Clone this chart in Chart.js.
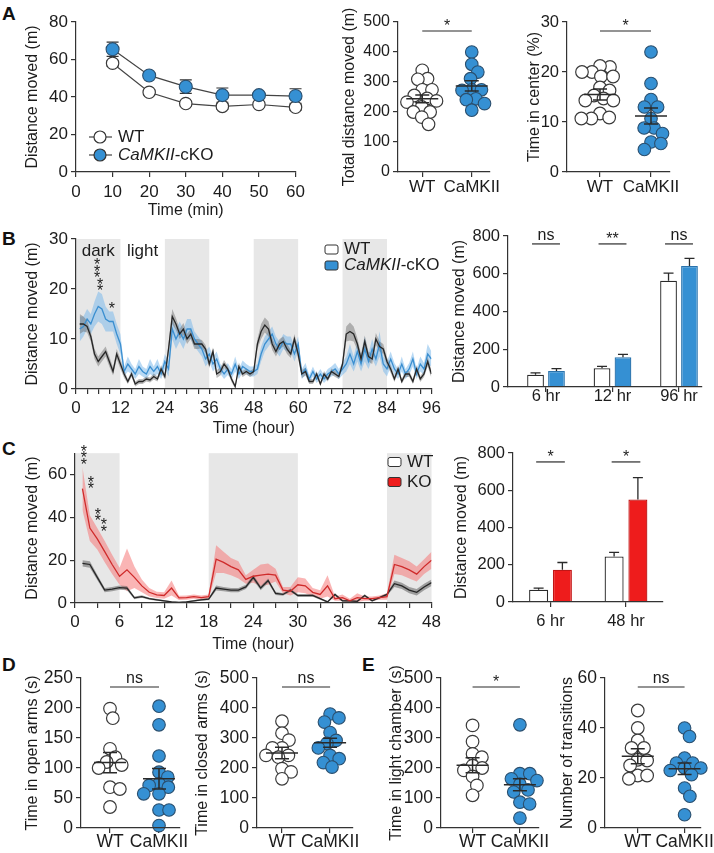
<!DOCTYPE html>
<html>
<head>
<meta charset="utf-8">
<title>Figure</title>
<script src="https://cdn.jsdelivr.net/npm/chart.js@4.4.1/dist/chart.umd.min.js"></script>
<style>
  html, body { margin:0; padding:0; background:#fff; }
  body { position:relative; width:714px; height:853px; overflow:hidden; }
  canvas { position:absolute; }
  .pl { position:absolute; font:bold 19px/19px "Liberation Sans", Arial, sans-serif; color:#111; }
</style>
</head>
<body>
<div class="pl" style="left:2px;top:4px">A</div>
<div class="pl" style="left:2px;top:229px">B</div>
<div class="pl" style="left:2px;top:439px">C</div>
<div class="pl" style="left:2px;top:655px">D</div>
<div class="pl" style="left:362px;top:655px">E</div>
<canvas id="cA1"></canvas>
<canvas id="cA2"></canvas>
<canvas id="cA3"></canvas>
<canvas id="cB1"></canvas>
<canvas id="cB2"></canvas>
<canvas id="cC1"></canvas>
<canvas id="cC2"></canvas>
<canvas id="cD1"></canvas>
<canvas id="cD2"></canvas>
<canvas id="cE1"></canvas>
<canvas id="cE2"></canvas>
<script>
// ===================== DATA =====================
const groups = ['WT', 'CaMKII'];

// A – open field, distance per 10 min
const aTime = [10, 20, 30, 40, 50, 60];
const aWT = [58, 42.5, 36.5, 35, 36, 34.5];
const aWTsem = [1.5, 1.2, 1.2, 1.5, 1.2, 1.5];
const aKO = [65.5, 51.5, 45.5, 41, 41, 40.5];
const aKOsem = [3.8, 1.2, 3.6, 3.8, 1.5, 3.9];
// A – total distance
const aTotalWT = [339, 311, 309, 274, 274, 255, 245, 237, 233, 217, 200, 200, 183, 159];
const aTotalKO = [400, 359, 333, 311, 274, 274, 272, 244, 241, 228, 206];
const aTotalMean = [244, 287];
const aTotalSem = [13, 17];
// A – time in center
const aCenterWT = [21, 21.2, 20, 20, 19.1, 19.1, 16.9, 16.3, 15.3, 14.7, 14.3, 14.3, 11.7, 10.7, 10.7, 10.9];
const aCenterKO = [24, 17.7, 14.5, 13, 13, 10.7, 8.8, 8.8, 7.7, 6, 5.7, 4.5];
const aCenterMean = [15.5, 11.2];
const aCenterSem = [1.1, 1.6];

// B – home cage 96 h
const bHours = Array.from({length: 96}, (_, i) => i + 1);
const bDark = [[0, 12], [24, 36], [48, 60], [72, 84]];
const bWT = [13, 13, 12.5, 10.5, 7, 5.5, 6.5, 7.5, 5.5, 3.5, 7, 5,
  3, 1.5, 3, 1, 1.5, 1.5, 2, 1.8, 2.5, 2, 4, 2.5,
  8, 14.5, 13, 11, 12, 10, 11, 9, 9, 9, 8, 5,
  7.5, 3, 3.5, 5, 4, 2, 0.5, 4.5, 3, 3.5, 3, 3.5,
  9, 11.5, 12.8, 12, 9, 7.5, 9, 9.5, 8, 7, 10, 7,
  3, 3.5, 1.5, 1.5, 3, 1, 3, 2, 3.5, 3, 2.5, 5,
  11, 11.5, 11, 9, 6, 9.5, 6.5, 6, 10, 8.5, 8, 5.5,
  4, 2, 4, 1.5, 3, 3, 1.5, 4, 2, 3, 5.5, 3];
const bWTsem = [2, 1.5, 1.2, 1, 1, 1, 1, 1, 1, 0.8, 1, 1,
  0.8, 0.5, 0.6, 0.5, 0.5, 0.5, 0.5, 0.5, 0.6, 0.5, 0.8, 0.6,
  1.2, 1.5, 1.2, 1, 1.2, 1, 1, 1, 1, 0.8, 0.8, 0.8,
  0.8, 0.8, 0.8, 0.8, 0.6, 0.6, 0.4, 0.8, 0.6, 0.6, 0.6, 0.6,
  1, 1.5, 1.5, 1.5, 1.2, 1, 1, 1, 1, 0.8, 1, 1,
  0.8, 0.8, 0.5, 0.5, 0.6, 0.4, 0.6, 0.5, 0.6, 0.6, 0.5, 0.8,
  1.5, 1.8, 1.5, 1.2, 1, 1.2, 1, 1, 1.2, 1, 1, 0.8,
  0.8, 0.6, 0.8, 0.5, 0.6, 0.6, 0.5, 0.8, 0.6, 0.6, 1, 0.8];
const bKO = [12, 12.5, 14, 13, 15, 16.5, 16, 14, 13.5, 13.5, 11, 9,
  3.5, 5, 4, 3, 4.5, 3.5, 3, 4.5, 3.5, 4.5, 3, 5.5,
  4, 12, 10, 11.5, 10, 12, 12, 10, 9, 8, 6, 7,
  5, 6, 4, 3, 4, 3, 5, 3, 4.5, 4, 3.5, 3.5,
  4, 7, 9, 10, 11, 9, 8, 9.5, 9, 9, 7, 9,
  3, 4, 2, 3.5, 2, 3, 2, 3, 3.5, 4, 3, 4,
  5, 7, 5, 7.5, 5, 8, 5.5, 8, 6, 9, 5, 4,
  6, 4, 3, 5, 3, 4, 6, 3, 5, 4, 7, 6];
const bKOsem = [2.5, 2, 2, 2, 2.5, 3, 3, 2.5, 2, 2, 2, 2,
  1, 1.5, 1, 1, 1.5, 1, 1, 1.5, 1, 1.5, 1, 1.5,
  1.5, 2, 2, 2, 2, 2, 2, 1.5, 1.5, 1.5, 1.5, 1.5,
  1.5, 1.5, 1, 1, 1.2, 1, 1.5, 1, 1.2, 1, 1, 1,
  1, 1.5, 1.5, 1.5, 1.5, 1.5, 1.5, 1.5, 1.5, 1.5, 1.5, 1.5,
  1, 1.2, 0.8, 1, 0.8, 1, 0.8, 1, 1, 1.2, 1, 1.2,
  1.5, 2, 1.5, 2, 1.5, 2.5, 1.5, 2, 1.5, 2.5, 1.5, 1.5,
  1.5, 1.2, 1, 1.5, 1, 1.2, 1.5, 1, 1.5, 1.2, 2, 1.5];
const bBarCats = ['6 hr', '12 hr', '96 hr'];
const bBarWT = [65, 99, 563];
const bBarWTerr = [10, 10, 40];
const bBarKO = [85, 158, 641];
const bBarKOerr = [12, 15, 40];

// C – 48 h
const cHours = Array.from({length: 48}, (_, i) => i + 1);
const cDark = [[0, 6], [18, 30], [42, 48]];
const cKO = [53.5, 35, 30, 24, 18, 12.5, 15.5, 12, 8, 5, 3.8, 3.5,
  7, 2.4, 2.5, 3, 2.5, 3, 20.5, 19, 17, 15.5, 11, 12.5,
  13, 13.5, 13, 6, 5.5, 8.5, 8, 5, 4, 8, 2, 2.5,
  1, 2.5, 2, 2, 2.5, 3, 18, 17, 15.5, 13.5, 17, 20];
const cKOsem = [10, 6, 5, 5, 4.5, 4, 10, 5, 3, 2, 1.5, 1.5,
  3.5, 1, 1, 1, 1, 1, 6.5, 5, 4, 4, 2, 3,
  5, 5, 3, 1.5, 2, 3.5, 3.5, 2, 2, 5, 1, 1.5,
  1, 2, 1, 1, 1, 1.5, 4.5, 4, 4, 3.5, 3.5, 4];
const cWT = [18.5, 18, 12, 6, 6.5, 7.2, 7, 2.4, 3, 2, 1.5, 1,
  0.5, 0.3, 0.5, 1, 1.5, 1.8, 7, 6.5, 6, 6, 7.5, 12,
  7, 10.5, 4.5, 4, 6, 3.5, 3.5, 3.5, 2, 0.5, 4, 1,
  1, 0.8, 3.5, 1, 2.5, 4, 9, 8, 6, 5, 7.5, 9.5];
const cWTsem = [1.5, 1.5, 1.2, 1, 1, 1, 1, 0.6, 0.6, 0.5, 0.5, 0.4,
  0.3, 0.3, 0.3, 0.4, 0.5, 0.5, 1.2, 1, 1, 1, 1, 1.2,
  1, 1, 0.8, 0.6, 0.8, 0.6, 0.6, 0.6, 0.5, 0.4, 0.6, 0.4,
  0.4, 0.4, 0.6, 0.4, 0.5, 0.6, 1.5, 1.5, 1.5, 1.5, 1.5, 1.5];
const cBarCats = ['6 hr', '48 hr'];
const cBarWT = [66, 244];
const cBarWTerr = [9, 22];
const cBarKO = [173, 551];
const cBarKOerr = [39, 117];

// D – elevated plus maze
const dOpenWT = [199, 183, 132, 118, 110, 105, 100, 68, 65, 35];
const dOpenKO = [203, 172, 120, 93, 85, 74, 71, 68, 57, 57, 30, 30, 4];
const dOpenMean = [109, 82];
const dOpenSem = [17, 17];
const dClosedWT = [356, 316, 293, 267, 267, 242, 242, 236, 198, 187, 164];
const dClosedKO = [380, 367, 353, 318, 292, 282, 267, 242, 231, 218, 203];
const dClosedMean = [250, 284];
const dClosedSem = [19, 15];

// E – light/dark box
const eLightWT = [342, 288, 247, 236, 208, 200, 192, 172, 142, 109];
const eLightKO = [344, 181, 181, 164, 158, 146, 127, 120, 86, 80, 33];
const eLightMean = [209, 144];
const eLightSem = [25, 20];
const eTransWT = [47, 40, 35, 32, 32, 27.3, 27, 25, 21, 21, 19.7];
const eTransKO = [40, 36.6, 28, 26, 26, 24, 24, 23, 21.3, 16, 12.7, 5.3];
const eTransMean = [28.7, 23.7];
const eTransSem = [3, 2.3];

// ===================== STYLE / HELPERS =====================
const FONT = '"Liberation Sans", Arial, Helvetica, sans-serif';
const AX = '#333';
const TXT = '#1c1c1c';
const BLUE = '#3590d3';
const BLUE_DK = '#2a73ad';
const RED = '#ee1c1c';
const RED_DK = '#c01616';
Chart.defaults.font.family = FONT;
Chart.defaults.color = TXT;
Chart.defaults.animation = false;
Chart.defaults.plugins.legend.display = false;
Chart.defaults.plugins.tooltip.enabled = false;

const EX = {};

function place(id, L) {
  const c = document.getElementById(id);
  c.width = L.cw; c.height = L.ch;
  c.style.left = L.cl + 'px'; c.style.top = L.ct + 'px';
  c.style.width = L.cw + 'px'; c.style.height = L.ch + 'px';
  return c;
}
function pad(L) {
  return {left: 0, bottom: 0, top: L.yT - L.ct, right: L.cl + L.cw - L.x1};
}
function gridOpts() {
  return {display: true, drawOnChartArea: false, drawTicks: true, tickLength: 5, color: AX, lineWidth: 1.2, offset: false};
}
function yLin(L, max, step, title, size) {
  return {
    type: 'linear', min: 0, max: max,
    ticks: {stepSize: step, font: {size: size}, color: TXT, padding: 3},
    grid: gridOpts(),
    border: {display: true, color: AX, width: 1.2, z: 1},
    title: {display: true, text: title, color: TXT, font: {size: 16}, padding: {top: L.tc - L.cl - 9.6, bottom: 0}},
    afterFit: s => { s.width = L.x0 - L.cl; }
  };
}
function xLin(L, min, max, step, labelFn, size, tpad, title, titlePad) {
  return {
    type: 'linear', min: min, max: max, offset: false,
    ticks: {stepSize: step, autoSkip: false, maxRotation: 0, font: {size: size}, color: TXT, padding: tpad,
      callback: v => labelFn(v)},
    grid: gridOpts(),
    border: {display: true, color: AX, width: 1.2, z: 1},
    title: title ? {display: true, text: title, color: TXT, font: {size: 16}, padding: {top: 0, bottom: titlePad}} : {display: false},
    afterFit: s => { s.height = L.ct + L.ch - L.y0; }
  };
}
function xCat(L, labels, size, tpad) {
  const min = -(L.c0 - L.x0) / L.sp, max = (L.x1 - L.c0) / L.sp;
  return {
    type: 'linear', min: min, max: max, offset: false,
    afterBuildTicks: s => { s.ticks = labels.map((_, i) => ({value: i})); },
    ticks: {autoSkip: false, maxRotation: 0, font: {size: size}, color: TXT, padding: tpad,
      callback: v => labels[Math.round(v)]},
    grid: gridOpts(),
    border: {display: true, color: AX, width: 1.2, z: 1},
    title: {display: false},
    afterFit: s => { s.height = L.ct + L.ch - L.y0; }
  };
}
function pts(xs, ys) { return xs.map((x, i) => ({x: x, y: ys[i]})); }

// beeswarm layout (pixel based) -> offsets in x data units
function swarm(values, r, pxY, pxX) {
  const idx = values.map((v, i) => i).sort((a, b) => values[b] - values[a]);
  const placed = [];
  const off = new Array(values.length).fill(0);
  idx.forEach(i => {
    const y = values[i] * pxY;
    const near = placed.filter(p => Math.abs(p.y - y) < 2 * r);
    const cands = [0];
    near.forEach(p => {
      const d = Math.sqrt(4 * r * r - (p.y - y) * (p.y - y));
      cands.push(p.x + d + 0.01, p.x - d - 0.01);
    });
    cands.sort((a, b) => Math.abs(a) - Math.abs(b));
    let best = 0;
    for (const c of cands) {
      if (near.every(p => (p.x - c) * (p.x - c) + (p.y - y) * (p.y - y) >= 4 * r * r - 0.05)) { best = c; break; }
    }
    placed.push({x: best, y: y});
    off[i] = best / pxX;
  });
  return off;
}

function drawParts(ctx, parts, x, y, size) {
  let cx = x;
  parts.forEach(p => {
    ctx.font = (p.it ? 'italic ' : '') + size + 'px ' + FONT;
    ctx.fillText(p.t, cx, y);
    cx += ctx.measureText(p.t).width;
  });
}
function star(ctx, x, yc, size) {
  ctx.font = size + 'px ' + FONT;
  ctx.textAlign = 'center'; ctx.textBaseline = 'alphabetic';
  ctx.fillText('*', x, yc + 0.575 * size);
}

const extras = {
  id: 'extras',
  beforeDatasetsDraw(chart) {
    const o = EX[chart.canvas.id]; if (!o) return;
    const ctx = chart.ctx, a = chart.chartArea, xs = chart.scales.x, ys = chart.scales.y;
    ctx.save();
    if (o.shade) {
      ctx.fillStyle = '#e7e7e7';
      o.shade.forEach(([s, e]) => {
        const p0 = xs.getPixelForValue(s), p1 = xs.getPixelForValue(e);
        ctx.fillRect(p0, a.top, p1 - p0, a.bottom - a.top);
      });
    }
    if (o.err) {
      ctx.strokeStyle = AX; ctx.lineWidth = 1.2;
      o.err.forEach(e => {
        chart.getDatasetMeta(e.ds).data.forEach((pt, i) => {
          const yt = ys.getPixelForValue(e.mean[i] + e.sem[i]), yb = ys.getPixelForValue(e.mean[i] - e.sem[i]);
          ctx.beginPath();
          ctx.moveTo(pt.x, yt); ctx.lineTo(pt.x, yb);
          ctx.moveTo(pt.x - 6, yt); ctx.lineTo(pt.x + 6, yt);
          ctx.moveTo(pt.x - 6, yb); ctx.lineTo(pt.x + 6, yb);
          ctx.stroke();
        });
      });
    }
    ctx.restore();
  },
  afterDatasetsDraw(chart) {
    const o = EX[chart.canvas.id]; if (!o) return;
    const ctx = chart.ctx, xs = chart.scales.x, ys = chart.scales.y;
    ctx.save();
    ctx.fillStyle = TXT;
    if (o.ms) {
      ctx.strokeStyle = '#2a2a2a'; ctx.lineWidth = 1.5;
      o.ms.mean.forEach((m, i) => {
        const px = xs.getPixelForValue(i), py = ys.getPixelForValue(m);
        const pt = ys.getPixelForValue(m + o.ms.sem[i]), pb = ys.getPixelForValue(m - o.ms.sem[i]);
        ctx.beginPath();
        ctx.moveTo(px - 16, py); ctx.lineTo(px + 16, py);
        ctx.moveTo(px, pt); ctx.lineTo(px, pb);
        ctx.moveTo(px - 7, pt); ctx.lineTo(px + 7, pt);
        ctx.moveTo(px - 7, pb); ctx.lineTo(px + 7, pb);
        ctx.stroke();
      });
    }
    if (o.barErr) {
      ctx.strokeStyle = '#2a2a2a'; ctx.lineWidth = 1.3;
      o.barErr.forEach(e => {
        chart.getDatasetMeta(e.ds).data.forEach((bar, i) => {
          const y0 = ys.getPixelForValue(e.val[i]), y1 = ys.getPixelForValue(e.val[i] + e.err[i]);
          ctx.beginPath();
          ctx.moveTo(bar.x, y0); ctx.lineTo(bar.x, y1);
          ctx.moveTo(bar.x - 5, y1); ctx.lineTo(bar.x + 5, y1);
          ctx.stroke();
        });
      });
    }
    if (o.sig) {
      ctx.strokeStyle = '#2a2a2a'; ctx.lineWidth = 1.2;
      o.sig.forEach(s => {
        const p1 = xs.getPixelForValue(s.x1), p2 = xs.getPixelForValue(s.x2), py = ys.getPixelForValue(s.y);
        ctx.beginPath(); ctx.moveTo(p1, py); ctx.lineTo(p2, py); ctx.stroke();
        ctx.font = '16px ' + FONT; ctx.textAlign = 'center'; ctx.textBaseline = 'alphabetic';
        ctx.fillText(s.text, (p1 + p2) / 2, py - (s.text === 'ns' ? 4 : 0));
      });
    }
    if (o.stars) {
      o.stars.forEach(s => {
        const px = xs.getPixelForValue(s.x), py = ys.getPixelForValue(s.y);
        for (let k = 0; k < s.n; k++) star(ctx, px, py + k * 6.4, 16);
      });
    }
    if (o.texts) {
      o.texts.forEach(t => {
        ctx.font = t.size + 'px ' + FONT; ctx.textAlign = 'center'; ctx.textBaseline = 'middle';
        ctx.fillText(t.text, xs.getPixelForValue(t.x), ys.getPixelForValue(t.y));
      });
    }
    if (o.legend) {
      const lg = o.legend;
      ctx.textAlign = 'left'; ctx.textBaseline = 'middle';
      lg.items.forEach(it => {
        if (lg.type === 'lineCircle') {
          ctx.strokeStyle = '#444'; ctx.lineWidth = 1.2;
          ctx.beginPath(); ctx.moveTo(it.x - 11, it.y); ctx.lineTo(it.x + 12, it.y); ctx.stroke();
          ctx.beginPath(); ctx.arc(it.x, it.y, 6, 0, Math.PI * 2);
          ctx.fillStyle = it.fill; ctx.fill(); ctx.strokeStyle = '#333'; ctx.stroke();
          ctx.fillStyle = TXT;
          drawParts(ctx, it.parts, it.x + 18, it.y, 17);
        } else {
          ctx.beginPath();
          if (ctx.roundRect) ctx.roundRect(it.x, it.y - 4.5, 13, 9, 2); else ctx.rect(it.x, it.y - 4.5, 13, 9);
          ctx.fillStyle = it.fill; ctx.fill(); ctx.strokeStyle = '#333'; ctx.lineWidth = 1; ctx.stroke();
          ctx.fillStyle = TXT;
          drawParts(ctx, it.parts, it.x + 19, it.y, 17);
        }
      });
    }
    ctx.restore();
  }
};

function scatterChart(id, L, wt, ko, mean, sem, ymax, ystep, title, sig, tsize, lsize, lpad) {
  const c = place(id, L);
  const pxY = (L.y0 - L.yT) / ymax;
  const oW = swarm(wt, 5.0, pxY, L.sp), oK = swarm(ko, 5.0, pxY, L.sp);
  EX[id] = {ms: {mean: mean, sem: sem}, sig: [sig]};
  return new Chart(c, {
    type: 'scatter',
    data: {datasets: [
      {data: wt.map((v, i) => ({x: 0 + oW[i], y: v})), pointRadius: 6.3, pointBackgroundColor: '#fff',
        pointBorderColor: '#3a3a3a', pointBorderWidth: 1.2, clip: false},
      {data: ko.map((v, i) => ({x: 1 + oK[i], y: v})), pointRadius: 6.3, pointBackgroundColor: BLUE,
        pointBorderColor: '#2b4f6e', pointBorderWidth: 1.1, clip: false}
    ]},
    options: {
      responsive: false, layout: {padding: pad(L)},
      scales: {x: xCat(L, groups, lsize, lpad), y: yLin(L, ymax, ystep, title, tsize)}
    },
    plugins: [extras]
  });
}

function barChart(id, L, cats, wt, wtErr, ko, koErr, koFill, koBorder, title, sig, tsize, lsize, lpad) {
  const c = place(id, L);
  EX[id] = {barErr: [{ds: 0, val: wt, err: wtErr}, {ds: 1, val: ko, err: koErr}], sig: sig};
  return new Chart(c, {
    type: 'bar',
    data: {datasets: [
      {data: wt.map((v, i) => ({x: i, y: v})), backgroundColor: '#fff', borderColor: '#2a2a2a', borderWidth: 1.3,
        categoryPercentage: 0.63, barPercentage: 0.8},
      {data: ko.map((v, i) => ({x: i, y: v})), backgroundColor: koFill, borderColor: koBorder, borderWidth: 1.3,
        categoryPercentage: 0.63, barPercentage: 0.8}
    ]},
    options: {
      responsive: false, layout: {padding: pad(L)},
      scales: {x: xCat(L, cats, lsize, lpad), y: yLin(L, 800, 200, title, tsize)}
    },
    plugins: [extras]
  });
}

function bandSets(xs, m, s, fill, order) {
  return [
    {data: pts(xs, m.map((v, i) => v - s[i])), borderWidth: 0, pointRadius: 0, fill: false, order: order},
    {data: pts(xs, m.map((v, i) => v + s[i])), borderWidth: 0, pointRadius: 0, fill: '-1', backgroundColor: fill, order: order}
  ];
}

// ===================== PANEL A =====================
(function () {
  const L = {cl: 10, ct: 0, cw: 300, ch: 222, x0: 76, x1: 298, yT: 22, y0: 172, tc: 33};
  const c = place('cA1', L);
  EX.cA1 = {
    err: [{ds: 0, mean: aKO, sem: aKOsem}, {ds: 1, mean: aWT, sem: aWTsem}],
    legend: {type: 'lineCircle', items: [
      {x: 90, y: 137, fill: '#fff', parts: [{t: 'WT'}]},
      {x: 90, y: 155, fill: BLUE, parts: [{t: 'CaMKII', it: true}, {t: '-cKO'}]}
    ]}
  };
  new Chart(c, {
    type: 'line',
    data: {datasets: [
      {data: pts(aTime, aKO), borderColor: '#444', borderWidth: 1.2, pointRadius: 6.5, pointBackgroundColor: BLUE,
        pointBorderColor: '#2b4f6e', pointBorderWidth: 1.1, tension: 0, clip: false},
      {data: pts(aTime, aWT), borderColor: '#444', borderWidth: 1.2, pointRadius: 6.2, pointBackgroundColor: '#fff',
        pointBorderColor: '#3a3a3a', pointBorderWidth: 1.2, tension: 0, clip: false}
    ]},
    options: {
      responsive: false, layout: {padding: pad(L)},
      scales: {
        x: xLin(L, 0, 60, 10, v => v, 17, 5, 'Time (min)', 1.4),
        y: yLin(L, 80, 20, 'Distance moved (m)', 17)
      }
    },
    plugins: [extras]
  });
})();

scatterChart('cA2', {cl: 330, ct: 0, cw: 172, ch: 200, x0: 398, x1: 492, yT: 22, y0: 172, tc: 350, c0: 423, sp: 51},
  aTotalWT, aTotalKO, aTotalMean, aTotalSem, 500, 100, 'Total distance moved (m)', {x1: 0, x2: 1, y: 470, text: '*'}, 16, 17, 0);
scatterChart('cA3', {cl: 515, ct: 0, cw: 195, ch: 200, x0: 567, x1: 670, yT: 22, y0: 172, tc: 535, c0: 600, sp: 51},
  aCenterWT, aCenterKO, aCenterMean, aCenterSem, 30, 10, 'Time in center (%)', {x1: 0, x2: 1, y: 28.2, text: '*'}, 16.5, 17, 0);

// ===================== PANEL B =====================
(function () {
  const L = {cl: 10, ct: 222, cw: 435, ch: 218, x0: 76, x1: 431.4, yT: 239, y0: 389, tc: 33};
  const c = place('cB1', L);
  EX.cB1 = {
    shade: bDark,
    stars: [{x: 5.7, y: 25.6, n: 3}, {x: 6.5, y: 21.7, n: 2}, {x: 9.7, y: 16.8, n: 1}],
    texts: [{x: 6, y: 27.6, text: 'dark', size: 17}, {x: 18, y: 27.6, text: 'light', size: 17}],
    legend: {type: 'box', items: [
      {x: 315, y: 27.5, fill: '#fff', parts: [{t: 'WT'}]},
      {x: 315, y: 43.5, fill: BLUE, parts: [{t: 'CaMKII', it: true}, {t: '-cKO'}]}
    ]}
  };
  new Chart(c, {
    type: 'line',
    data: {datasets: [
      ...bandSets(bHours, bKO, bKOsem, 'rgba(125,185,235,0.55)', 20),
      ...bandSets(bHours, bWT, bWTsem, 'rgba(105,105,105,0.45)', 15),
      {data: pts(bHours, bKO), borderColor: '#3b8fd0', borderWidth: 1.3, pointRadius: 0, fill: false, tension: 0, order: 5},
      {data: pts(bHours, bWT), borderColor: '#262626', borderWidth: 1.3, pointRadius: 0, fill: false, tension: 0, order: 1}
    ]},
    options: {
      responsive: false, layout: {padding: pad(L)},
      scales: {
        x: xLin(L, 0, 96, 3, v => (v % 12 === 0 ? v : ''), 17, 4, 'Time (hour)', 1.4),
        y: yLin(L, 30, 10, 'Distance moved (m)', 17)
      }
    },
    plugins: [extras]
  });
})();

barChart('cB2', {cl: 445, ct: 222, cw: 265, ch: 190, x0: 508, x1: 702, yT: 236, y0: 387, tc: 460, c0: 546, sp: 66.5},
  bBarCats, bBarWT, bBarWTerr, bBarKO, bBarKOerr, BLUE, BLUE_DK, 'Distance moved (m)',
  [{x1: -0.21, x2: 0.21, y: 758, text: 'ns'}, {x1: 0.79, x2: 1.21, y: 758, text: '**'}, {x1: 1.79, x2: 2.21, y: 758, text: 'ns'}],
  16.5, 16.5, -5);

// ===================== PANEL C =====================
(function () {
  const L = {cl: 10, ct: 440, cw: 435, ch: 215, x0: 75, x1: 435, yT: 453, y0: 603, tc: 33};
  const c = place('cC1', L);
  EX.cC1 = {
    shade: cDark,
    stars: [{x: 1.2, y: 72.6, n: 3}, {x: 2.13, y: 58.2, n: 2}, {x: 3.07, y: 43.3, n: 2}, {x: 3.87, y: 38.2, n: 2}],
    legend: {type: 'box', items: [
      {x: 378, y: 22, fill: '#fff', parts: [{t: 'WT'}]},
      {x: 378, y: 42, fill: RED, parts: [{t: 'KO'}]}
    ]}
  };
  new Chart(c, {
    type: 'line',
    data: {datasets: [
      ...bandSets(cHours, cKO, cKOsem, 'rgba(246,120,120,0.55)', 20),
      ...bandSets(cHours, cWT, cWTsem, 'rgba(85,85,85,0.5)', 15),
      {data: pts(cHours, cWT), borderColor: '#262626', borderWidth: 1.3, pointRadius: 0, fill: false, tension: 0, order: 5},
      {data: pts(cHours, cKO), borderColor: '#cf2b2b', borderWidth: 1.3, pointRadius: 0, fill: false, tension: 0, order: 1}
    ]},
    options: {
      responsive: false, layout: {padding: pad(L)},
      scales: {
        x: xLin(L, 0, 48, 3, v => (v % 6 === 0 ? v : ''), 17, 4, 'Time (hour)', 0.4),
        y: yLin(L, 70, 10, 'Distance moved (m)', 17)
      }
    },
    plugins: [extras]
  });
})();

barChart('cC2', {cl: 445, ct: 440, cw: 265, ch: 200, x0: 513, x1: 663, yT: 453, y0: 602, tc: 462, c0: 550.5, sp: 75.5},
  cBarCats, cBarWT, cBarWTerr, cBarKO, cBarKOerr, RED, RED_DK, 'Distance moved (m)',
  [{x1: -0.19, x2: 0.19, y: 752, text: '*'}, {x1: 0.81, x2: 1.19, y: 752, text: '*'}],
  16.5, 16.5, 5);

// ===================== PANELS D & E =====================
scatterChart('cD1', {cl: 15, ct: 655, cw: 180, ch: 198, x0: 81, x1: 180, yT: 678, y0: 828, tc: 33, c0: 110, sp: 49},
  dOpenWT, dOpenKO, dOpenMean, dOpenSem, 250, 50, 'Time in open arms (s)', {x1: 0, x2: 1, y: 235, text: 'ns'}, 17.5, 17.5, -1);
scatterChart('cD2', {cl: 190, ct: 655, cw: 170, ch: 198, x0: 257, x1: 356, yT: 678, y0: 828, tc: 203, c0: 283, sp: 50},
  dClosedWT, dClosedKO, dClosedMean, dClosedSem, 500, 100, 'Time in closed arms (s)', {x1: 0, x2: 1, y: 470, text: 'ns'}, 17.5, 17.5, -1);
scatterChart('cE1', {cl: 385, ct: 655, cw: 165, ch: 198, x0: 441, x1: 540, yT: 678, y0: 828, tc: 397, c0: 473, sp: 48},
  eLightWT, eLightKO, eLightMean, eLightSem, 500, 100, 'Time in light chamber (s)', {x1: 0, x2: 1, y: 470, text: '*'}, 17.5, 17.5, -1);
scatterChart('cE2', {cl: 555, ct: 655, cw: 159, ch: 198, x0: 605, x1: 707, yT: 678, y0: 828, tc: 568, c0: 640, sp: 50},
  eTransWT, eTransKO, eTransMean, eTransSem, 60, 20, 'Number of transitions', {x1: 0, x2: 1, y: 56.4, text: 'ns'}, 17.5, 17.5, -1);
</script>
</body>
</html>
